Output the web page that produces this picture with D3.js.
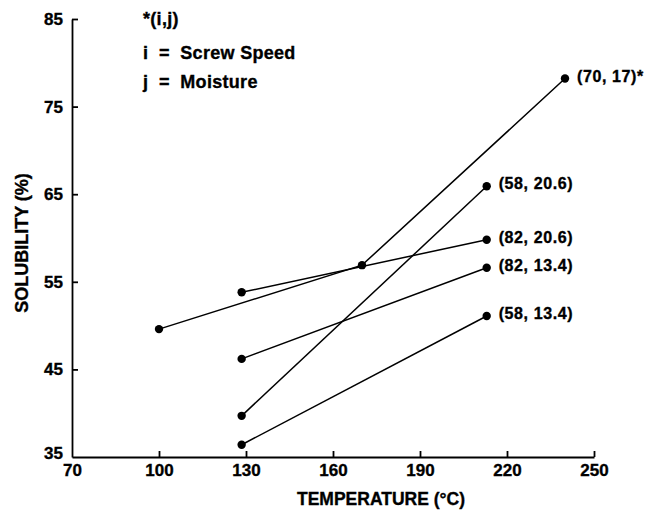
<!DOCTYPE html>
<html lang="en">
<head>
    <meta charset="UTF-8">
    <title>Solubility vs Temperature</title>
    <style>
        body {
            margin: 0;
            background: #fff;
        }
        svg {
            font-family: "Liberation Sans", Arial, sans-serif;
            font-weight: bold;
        }
        svg text {
            stroke: #000;
            stroke-width: 0.35px;
        }
        .axis path,
        .axis line {
            fill: none;
            stroke: #000;
            stroke-width: 1.8;
        }
        .axis text {
            font-size: 17px;
            font-weight: bold;
            fill: #000;
        }
        .series {
            fill: none;
            stroke: #000;
            stroke-width: 1.5;
        }
        .dot {
            fill: #000;
        }
        .label {
            font-size: 16px;
            letter-spacing: 0.6px;
            fill: #000;
        }
        .legend {
            font-size: 18px;
            letter-spacing: 0.3px;
            fill: #000;
            white-space: pre;
        }
    </style>
</head>
<body>
    <svg width="651" height="511"></svg>
    <script src="https://d3js.org/d3.v7.min.js"></script>
    <script>
        // x ticks / y ticks
        const xTicks = [70, 100, 130, 160, 190, 220, 250];
        const yTicks = [35, 45, 55, 65, 75, 85];

        // one entry per (screw speed, moisture) combination
        const seriesNames = ["(70, 17)*", "(58, 20.6)", "(82, 20.6)", "(82, 13.4)", "(58, 13.4)"];
        const seriesTemps = [
            [100, 170, 240],
            [128.5, 213],
            [128.5, 213],
            [128.5, 213],
            [128.5, 213]
        ];
        const seriesValues = [
            [49.6, 56.9, 78.2],
            [39.7, 65.9],
            [53.8, 59.8],
            [46.2, 56.6],
            [36.4, 51.1]
        ];

        const legendLines = ["*(i,j)", "i  =  Screw Speed", "j  =  Moisture"];

        const svg = d3.select("svg");
        const margin = {top: 19, right: 57, bottom: 54, left: 72};
        const width = +svg.attr("width");
        const height = +svg.attr("height");

        const x = d3.scaleLinear().domain([70, 250]).range([margin.left, width - margin.right]);
        const y = d3.scaleLinear().domain([35, 85]).range([height - margin.bottom, margin.top]);

        // x axis, ticks pointing up
        const xAxis = svg.append("g")
            .attr("class", "axis")
            .attr("transform", `translate(0,${y(35)})`)
            .call(d3.axisBottom(x).tickValues(xTicks).tickSize(-6).tickSizeOuter(0).tickPadding(12));
        xAxis.selectAll(".tick").filter(d => d === 70).select("line").remove();
        xAxis.selectAll(".tick text").attr("y", 7);

        // y axis, ticks pointing right
        const yAxis = svg.append("g")
            .attr("class", "axis")
            .attr("transform", `translate(${x(70)},0)`)
            .call(d3.axisLeft(y).tickValues(yTicks).tickSize(-6).tickSizeOuter(0).tickPadding(14));
        yAxis.selectAll(".tick").filter(d => d === 35).select("line").remove();
        yAxis.selectAll(".tick").filter(d => d === 35).select("text").attr("dy", "0.1em");
        yAxis.selectAll(".tick text").attr("x", -9);

        const line = d3.line()
            .x(d => x(d[0]))
            .y(d => y(d[1]));

        seriesNames.forEach((name, i) => {
            const pts = seriesTemps[i].map((t, k) => [t, seriesValues[i][k]]);
            svg.append("path")
                .attr("class", "series")
                .attr("d", line(pts));
            svg.selectAll(null)
                .data(pts)
                .enter().append("circle")
                .attr("class", "dot")
                .attr("r", 4.2)
                .attr("cx", d => x(d[0]))
                .attr("cy", d => y(d[1]));
            const last = pts[pts.length - 1];
            svg.append("text")
                .attr("class", "label")
                .attr("x", x(last[0]) + 12)
                .attr("y", y(last[1]) + 3)
                .text(name);
        });

        // legend
        svg.selectAll(".legend")
            .data(legendLines)
            .enter().append("text")
            .attr("class", "legend")
            .attr("x", 143)
            .attr("y", (d, i) => i === 0 ? 25 : 30 + i * 29)
            .text(d => d);

        // axis titles
        svg.append("text")
            .attr("x", 381)
            .attr("y", 505)
            .attr("text-anchor", "middle")
            .attr("font-size", "17.5px")
            .text("TEMPERATURE (°C)");

        svg.append("text")
            .attr("transform", `translate(28,243) rotate(-90)`)
            .attr("text-anchor", "middle")
            .attr("font-size", "18px")
            .text("SOLUBILITY (%)");
    </script>
</body>
</html>
